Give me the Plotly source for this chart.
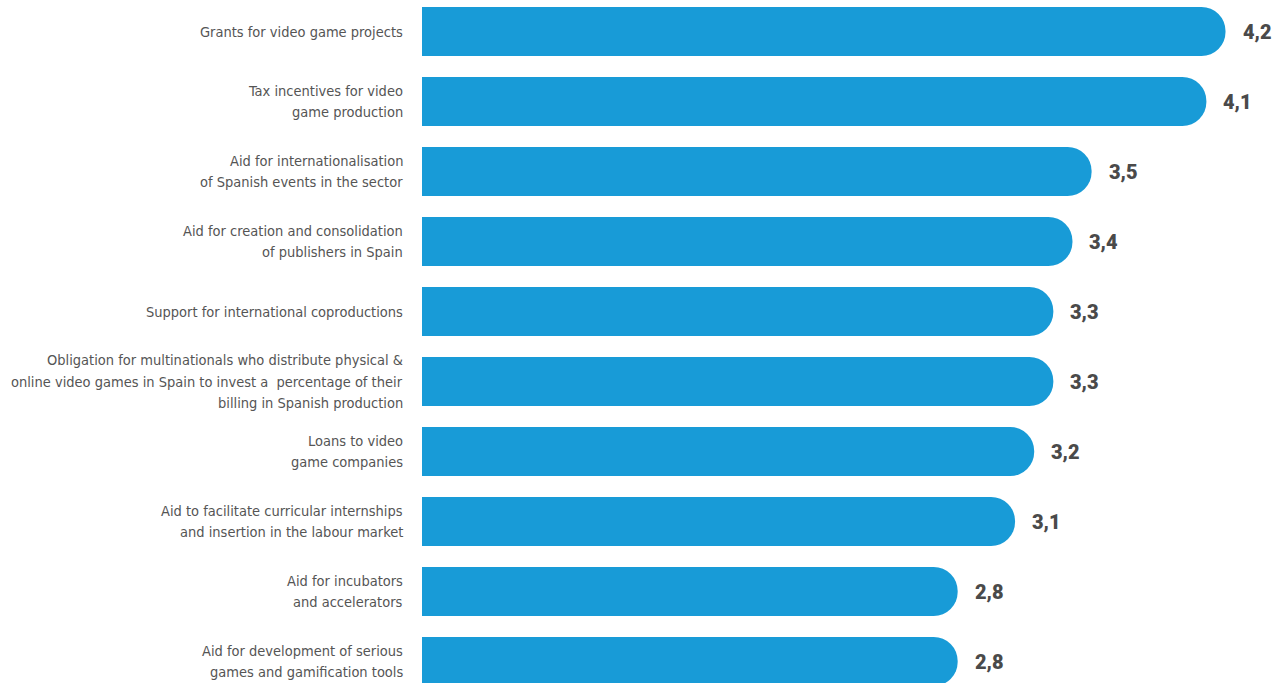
import plotly.graph_objects as go

# Support measures (top to bottom) and their average ratings
measures = [
    "Grants for video game projects",
    "Tax incentives for video<br>game production",
    "Aid for internationalisation<br>of Spanish events in the sector",
    "Aid for creation and consolidation<br>of publishers in Spain",
    "Support for international coproductions",
    "Obligation for multinationals who distribute physical &amp;<br>online video games in Spain to invest a  percentage of their<br>billing in Spanish production",
    "Loans to video<br>game companies",
    "Aid to facilitate curricular internships<br>and insertion in the labour market",
    "Aid for incubators<br>and accelerators",
    "Aid for development of serious<br>games and gamification tools",
]
ratings = [4.2, 4.1, 3.5, 3.4, 3.3, 3.3, 3.2, 3.1, 2.8, 2.8]
rating_labels = ["4,2", "4,1", "3,5", "3,4", "3,3", "3,3", "3,2", "3,1", "2,8", "2,8"]

BAR_COLOR = "#189bd7"
TEXT_COLOR = "#555555"
VALUE_COLOR = "#4a4a4a"
LABEL_FONT = "Liberation Sans Narrow, DejaVu Sans Condensed, Arial Narrow, sans-serif"
LINE_STEP = 21.5  # pixel spacing between label lines

positions = list(range(len(measures)))

fig = go.Figure(
    go.Bar(
        x=ratings,
        y=positions,
        orientation="h",
        width=0.7,
        marker=dict(color=BAR_COLOR, cornerradius=25, line=dict(width=0)),
        hoverinfo="skip",
    )
)

annotations = []
for pos, name in zip(positions, measures):
    lines = name.split("<br>")
    n = len(lines)
    for k, line in enumerate(lines):
        annotations.append(dict(
            x=0, xref="paper", y=pos, yref="y",
            text=line, showarrow=False,
            xanchor="right", yanchor="middle", align="right",
            xshift=-17, yshift=((n - 1) / 2 - k) * LINE_STEP,
            font=dict(family=LABEL_FONT, size=14.5, color=TEXT_COLOR),
        ))
for pos, val, lab in zip(positions, ratings, rating_labels):
    annotations.append(dict(
        x=val, xref="x", y=pos, yref="y",
        text=lab, showarrow=False,
        xanchor="left", yanchor="middle", xshift=15,
        font=dict(family="Roboto, sans-serif", size=20, color=VALUE_COLOR, weight=900),
    ))

fig.update_layout(
    width=1281, height=683,
    margin=dict(l=422, r=0, t=0, b=0),
    paper_bgcolor="white", plot_bgcolor="white",
    showlegend=False,
    annotations=annotations,
    xaxis=dict(range=[0, 4.49], visible=False, fixedrange=True),
    yaxis=dict(range=[9.307, -0.45], visible=False, fixedrange=True),
)

fig.write_html("out.html")
